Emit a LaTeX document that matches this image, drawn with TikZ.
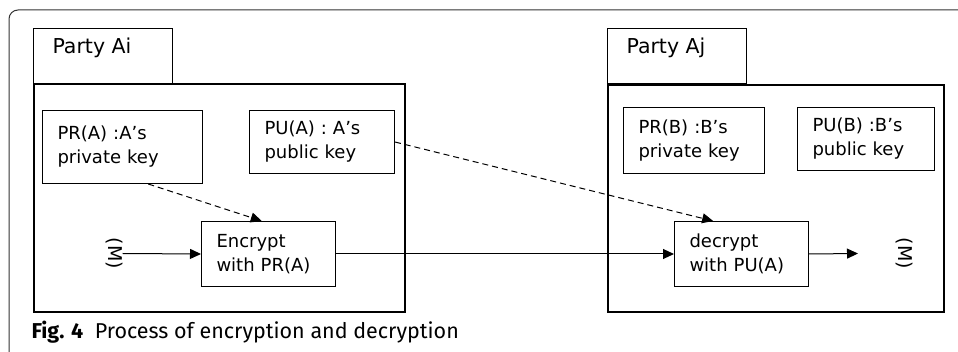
\documentclass[tikz,border=0pt]{standalone}
\usepackage{fontspec}
\setmainfont{DejaVu Sans}
\newfontfamily\capfont{Fira Sans}
\usetikzlibrary{arrows.meta,calc}

\tikzset{
  keybox/.style={draw, line width=1pt, align=left, anchor=north west, inner xsep=15pt, inner ysep=0pt,
    font=\fontsize{18}{24}\selectfont},
  partybox/.style={draw, line width=2.2pt, anchor=north west},
  tabbox/.style={draw, line width=1pt, anchor=north west},
  partyname/.style={anchor=base west, font=\fontsize{20.5}{24}\selectfont},
  msg/.style={rotate=-90, inner sep=0pt, font=\fontsize{19}{22}\selectfont},
  flow/.style={line width=1pt, -{Triangle[length=11pt,width=10pt]}},
  keyflow/.style={flow, dash pattern=on 6pt off 4pt},
}

\begin{document}
\begin{tikzpicture}[x=1pt,y=-1pt]
\useasboundingbox (0,0) rectangle (958,352);
% frame of the figure
\draw[line width=1pt, black!80, rounded corners=9pt] (958,10) -- (9,10) -- (9,352);

% party Ai
\node[tabbox, minimum width=139, minimum height=55] (tabAi) at (33,28){};
\node[partyname] (nameAi) at (49,54){Party Ai};
\node[partybox, minimum width=371, minimum height=228] (partyAi) at (33,83){};
\node[keybox, text width=130, minimum height=73] (prA) at (42,110){PR(A) :A’s\\private key};
\node[keybox, text width=115, minimum height=63] (puA) at (249,110){PU(A) : A’s\\public key};
\node[keybox, text width=104, minimum height=65] (encA) at (201,221){Encrypt\\with PR(A)};
\node[msg] (mA) at (114,253.5){(M)};

% party Aj
\node[tabbox, minimum width=139, minimum height=55] (tabAj) at (607,28){};
\node[partyname] (nameAj) at (623,54){Party Aj};
\node[partybox, minimum width=336, minimum height=227] (partyAj) at (607,84){};
\node[keybox, text width=111, minimum height=66] (prB) at (623,107){PR(B) :B’s\\private key};
\node[keybox, text width=107, minimum height=63] (puB) at (797,107){PU(B) :B’s\\public key};
\node[keybox, text width=104, minimum height=65] (decB) at (674,221){decrypt\\with PU(A)};
\node[msg] (mB) at (904,253.5){(M)};
\coordinate (outB) at (858,253.5);

% connectors
\draw[flow] (mA.north) -- (encA.west);
\draw[keyflow] ($(prA.south west)!0.66!(prA.south east)$) -- ($(encA.north west)!0.45!(encA.north east)$);
\draw[keyflow] (puA.east) -- ($(decB.north west)!0.29!(decB.north east)$);
\draw[flow] (encA.east) -- (decB.west);
\draw[flow] (decB.east) -- (outB);

% caption
\node[anchor=base west, font=\capfont\fontsize{21.5}{26}\selectfont] (caption) at (28,338){\textbf{Fig. 4}\ \ Process of encryption and decryption};
\end{tikzpicture}
\end{document}
